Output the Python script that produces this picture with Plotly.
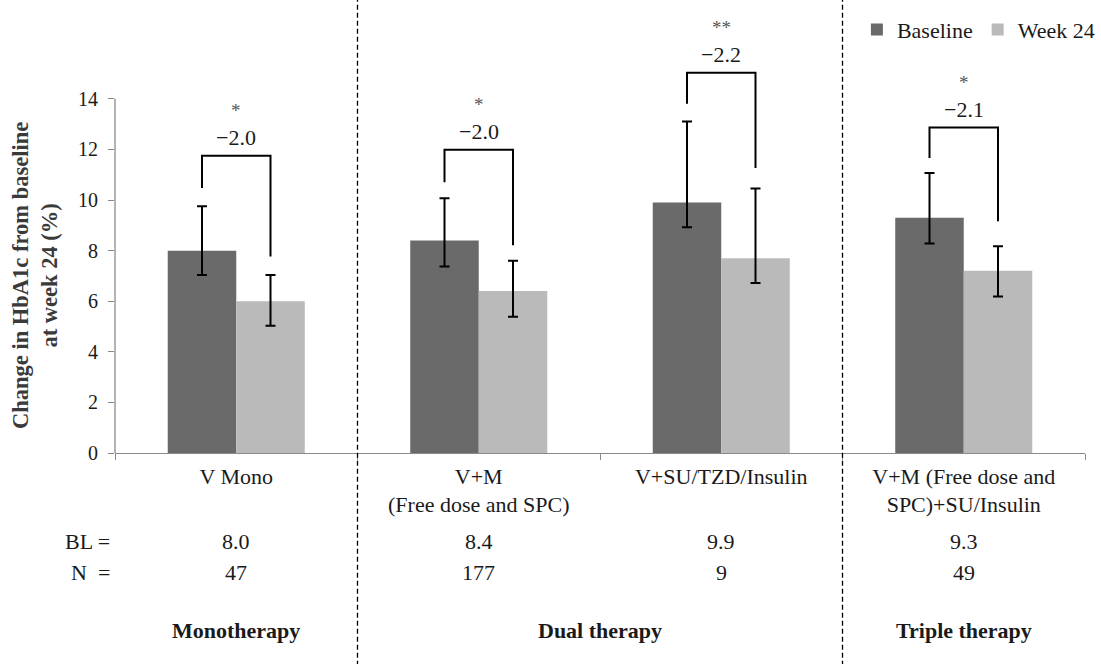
import plotly.graph_objects as go

# ---------------- data ----------------
categories = ["V Mono", "V+M<br>(Free dose and SPC)", "V+SU/TZD/Insulin",
              "V+M (Free dose and<br>SPC)+SU/Insulin"]
baseline = [8.0, 8.4, 9.9, 9.3]
baseline_hi = [9.75, 10.07, 13.1, 11.07]
baseline_lo = [7.04, 7.37, 8.92, 8.28]
week24 = [6.0, 6.4, 7.7, 7.2]
week24_hi = [7.04, 7.6, 10.46, 8.17]
week24_lo = [5.03, 5.39, 6.72, 6.19]

bracket_top = [11.75, 11.99, 15.03, 12.87]
bracket_left_end = [10.48, 10.7, 13.81, 11.66]
bracket_right_end = [7.77, 8.21, 11.27, 9.16]
diff_labels = ["\u22122.0", "\u22122.0", "\u22122.2", "\u22122.1"]
sig_labels = ["*", "*", "**", "*"]

bl_values = ["8.0", "8.4", "9.9", "9.3"]
n_values = ["47", "177", "9", "49"]
groups = [("Monotherapy", 0, 0), ("Dual therapy", 1, 2), ("Triple therapy", 3, 3)]
y_ticks = [0, 2, 4, 6, 8, 10, 12, 14]

# ---------------- style ----------------
FONT = "Liberation Serif, Times New Roman, serif"
TXT = "#1a1a1a"
AXC = "#8a8a8a"
C_BASE = "#6a6a6a"
C_WEEK = "#bababa"
BARGAP = 0.435
FS = 22

xs = list(range(len(categories)))
half = (1 - BARGAP) / 4  # half width of one bar in group mode

fig = go.Figure()
fig.add_trace(go.Bar(
    name="Baseline", x=xs, y=baseline, marker=dict(color=C_BASE, line=dict(width=0)),
    error_y=dict(type="data", symmetric=False,
                 array=[h - v for h, v in zip(baseline_hi, baseline)],
                 arrayminus=[v - l for l, v in zip(baseline_lo, baseline)],
                 color="black", thickness=2, width=5),
    hoverinfo="skip"))
fig.add_trace(go.Bar(
    name="Week 24", x=xs, y=week24, marker=dict(color=C_WEEK, line=dict(width=0)),
    error_y=dict(type="data", symmetric=False,
                 array=[h - v for h, v in zip(week24_hi, week24)],
                 arrayminus=[v - l for l, v in zip(week24_lo, week24)],
                 color="black", thickness=2, width=5),
    hoverinfo="skip"))

# significance brackets
bx, by = [], []
for i in xs:
    bx += [i - half, i - half, i + half, i + half, None]
    by += [bracket_left_end[i], bracket_top[i], bracket_top[i], bracket_right_end[i], None]
fig.add_trace(go.Scatter(x=bx, y=by, mode="lines", line=dict(color="black", width=2),
                         showlegend=False, hoverinfo="skip"))

ann = []
for i in xs:
    ann.append(dict(x=i, y=bracket_top[i], xref="x", yref="y", text=diff_labels[i],
                    showarrow=False, yanchor="middle", yshift=18,
                    font=dict(family=FONT, size=FS, color=TXT)))
    ann.append(dict(x=i, y=bracket_top[i], xref="x", yref="y", text=sig_labels[i],
                    showarrow=False, yanchor="middle", yshift=45,
                    font=dict(family=FONT, size=19, color="#555555")))
    ann.append(dict(x=i, y=0, xref="x", yref="paper", text=bl_values[i],
                    showarrow=False, yanchor="middle", yshift=-88,
                    font=dict(family=FONT, size=FS, color=TXT)))
    ann.append(dict(x=i, y=0, xref="x", yref="paper", text=n_values[i],
                    showarrow=False, yanchor="middle", yshift=-119,
                    font=dict(family=FONT, size=FS, color=TXT)))

ann.append(dict(x=0, y=0, xref="paper", yref="paper", text="BL =", showarrow=False,
                xanchor="right", yanchor="middle", xshift=-3, yshift=-88,
                font=dict(family=FONT, size=FS, color=TXT)))
ann.append(dict(x=0, y=0, xref="paper", yref="paper", text="N  =", showarrow=False,
                xanchor="right", yanchor="middle", xshift=-3, yshift=-119,
                font=dict(family=FONT, size=FS, color=TXT)))
for name, a, b in groups:
    ann.append(dict(x=(a + b) / 2, y=0, xref="x", yref="paper", text="<b>%s</b>" % name,
                    showarrow=False, yanchor="middle", yshift=-177,
                    font=dict(family=FONT, size=FS, color=TXT)))

ann.append(dict(x=0, y=(y_ticks[0] + y_ticks[-1]) / 2, xref="paper", yref="y",
                text="<b>Change in HbA1c from baseline<br>at week 24 (%)</b>",
                showarrow=False, textangle=-90, xanchor="center", yanchor="middle",
                xshift=-80, font=dict(family=FONT, size=22.5, color="#3a3a3a")))

shapes = [
    # y axis line (only over the ticked range)
    dict(type="line", xref="paper", yref="y", x0=0, x1=0, y0=y_ticks[0], y1=y_ticks[-1],
         line=dict(color=AXC, width=1.3)),
]
for bnd in [0.5, 2.5]:
    shapes.append(dict(type="line", xref="x", yref="paper", x0=bnd, x1=bnd, y0=-0.6, y1=1.1,
                       line=dict(color="black", width=1.3, dash="5px,3px")))

fig.update_layout(
    width=1101, height=664,
    margin=dict(l=115, r=16, t=5, b=211, autoexpand=False),
    paper_bgcolor="white", plot_bgcolor="white",
    barmode="group", bargap=BARGAP, bargroupgap=0,
    font=dict(family=FONT, size=FS, color=TXT),
    xaxis=dict(range=[-0.5, len(categories) - 0.5], tickvals=xs, ticktext=categories,
               ticks="", showline=True, linecolor=AXC, linewidth=1.3,
               tickfont=dict(family=FONT, size=FS, color=TXT), ticklabelstandoff=3,
               minor=dict(tickvals=[i - 0.5 for i in range(len(categories) + 1)],
                          ticks="outside", ticklen=6, tickcolor=AXC, tickwidth=1.3),
               showgrid=False, zeroline=False, fixedrange=True, automargin=False),
    yaxis=dict(range=[0, 17.71], tickvals=y_ticks, ticks="outside", ticklen=6,
               tickcolor=AXC, tickwidth=1.3, showline=False, showgrid=False,
               zeroline=False, tickfont=dict(family=FONT, size=20, color=TXT),
               ticklabelstandoff=6, fixedrange=True, automargin=False),
    legend=dict(orientation="h", xref="container", x=0.999, xanchor="right",
                y=0.945, yanchor="middle",
                font=dict(family=FONT, size=FS, color=TXT), bgcolor="rgba(0,0,0,0)",
                itemclick=False, itemdoubleclick=False),
    annotations=ann, shapes=shapes,
)

fig.write_html("out.html", config={"displayModeBar": False},
               post_script="document.body.style.margin='0';")
